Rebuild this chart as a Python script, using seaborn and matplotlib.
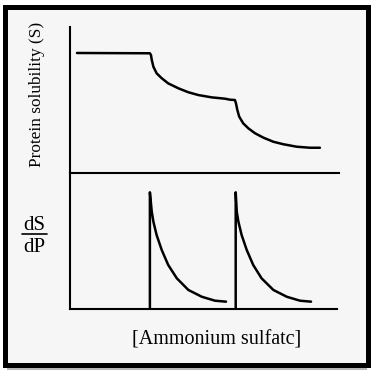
import matplotlib
matplotlib.use("Agg")
import pandas as pd
import matplotlib.pyplot as plt
from matplotlib.patches import Rectangle
from matplotlib.lines import Line2D
import seaborn as sns

# top panel: protein solubility (S) against salt concentration
sol_x = [2.6, 29.7, 30.1, 30.4, 31.0, 32.2, 34.1, 36.5, 40.3, 44.0, 47.7,
         52.7, 57.6, 59.5, 61.3, 61.7, 62.2, 62.9, 64.4, 66.3, 68.8, 71.9,
         75.6, 79.3, 84.3, 89.2, 92.9]
sol_y = [82.2, 82.0, 80.8, 77.4, 72.8, 68.3, 64.9, 61.4, 58.0, 55.3, 53.4,
         51.8, 50.9, 50.2, 50.0, 47.7, 43.2, 38.6, 34.0, 30.6, 27.2, 24.2,
         21.4, 19.7, 18.0, 17.3, 17.3]

# bottom panel: dS/dP, one spike per precipitating protein
peak1_x = [29.7, 29.7, 30.4, 31.0, 32.2, 34.1, 36.5, 39.7, 44.0, 49.0, 53.9, 58.0]
peak1_y = [0, 85.8, 71.5, 64.2, 54.4, 43.4, 32.4, 22.6, 14.0, 9.0, 6.1, 5.4]
peak2_x = [61.6, 61.6, 62.0, 62.6, 63.8, 65.7, 68.1, 71.2, 75.6, 80.6, 85.5, 89.6]
peak2_y = [0, 85.8, 71.5, 64.2, 54.4, 43.4, 32.4, 22.6, 14.0, 9.0, 6.1, 5.4]

sol_df = pd.DataFrame({"salt": sol_x, "S": sol_y})
deriv_df = pd.DataFrame({
    "salt": peak1_x + peak2_x,
    "dSdP": peak1_y + peak2_y,
    "peak": [1] * len(peak1_x) + [2] * len(peak2_x),
})

sns.set_style("white")
plt.rcParams['font.family'] = ['Liberation Serif', 'DejaVu Serif']
plt.rcParams['text.color'] = 'black'

W, H = 377, 372
fig = plt.figure(figsize=(W / 100, H / 100), dpi=100)
fig.patch.set_facecolor("white")

def fx(px):
    return px / W

def fy(py):
    return 1 - py / H

# framed background with a soft shadow
fig.patches.append(Rectangle((fx(7), fy(370)), fx(367) - fx(7), fy(9) - fy(370),
                             transform=fig.transFigure, facecolor="#b4b4b4",
                             edgecolor="none", zorder=-3))
fig.patches.append(Rectangle((fx(4.5), fy(364.5)), fx(367.5) - fx(4.5), fy(6.5) - fy(364.5),
                             transform=fig.transFigure, facecolor="#f6f6f6",
                             edgecolor="black", linewidth=3.6, zorder=-2))

left, right = fx(70), fx(339)
ax1 = fig.add_axes([left, fy(173), right - left, fy(27) - fy(173)])
ax2 = fig.add_axes([left, fy(309), right - left, fy(173) - fy(309)])

sns.lineplot(data=sol_df, x="salt", y="S", sort=False, color="black",
             linewidth=1.8, ax=ax1)
sns.lineplot(data=deriv_df, x="salt", y="dSdP", units="peak", estimator=None,
             sort=False, color="black", linewidth=1.8, ax=ax2)

for ax in (ax1, ax2):
    ax.set_xlim(0, 100)
    ax.set_ylim(0, 100)
    ax.set_facecolor("none")
    ax.set_xticks([])
    ax.set_yticks([])
    ax.set_xlabel("")
    ax.set_ylabel("")
    sns.despine(ax=ax)
    for s in ("left", "bottom"):
        ax.spines[s].set_linewidth(1.5)
        ax.spines[s].set_color("black")
ax2.spines["bottom"].set_bounds(0, 99.3)

fig.text(fx(37), fy(94), "Protein solubility (S)", rotation=90,
         ha="center", va="center", fontsize=12.4)
fig.text(fx(34), fy(225), "dS", ha="center", va="center", fontsize=15)
fig.lines.append(Line2D([fx(22), fx(47)], [fy(234), fy(234)],
                        transform=fig.transFigure, color="black", linewidth=1.2))
fig.text(fx(34), fy(247), "dP", ha="center", va="center", fontsize=15)
fig.text(fx(217), fy(340), "[Ammonium sulfatc]", ha="center", va="center",
         fontsize=14.5)

fig.savefig("out.png", dpi=100)
